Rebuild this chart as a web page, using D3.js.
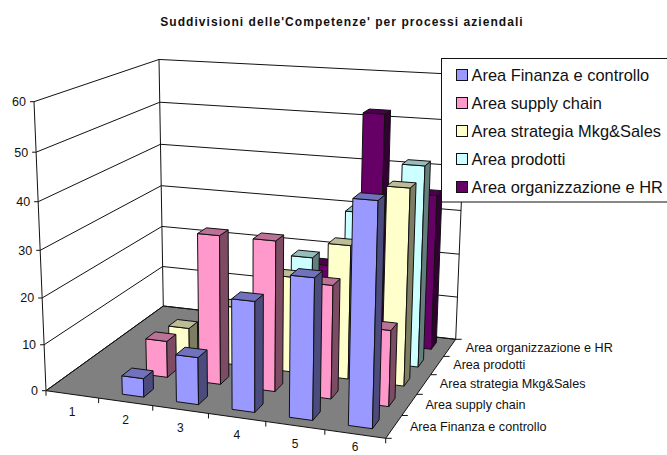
<!DOCTYPE html>
<html><head><meta charset="utf-8">
<script src="https://cdn.jsdelivr.net/npm/d3@7"></script>
<style>html,body{margin:0;padding:0;background:#fff}svg{display:block}text{font-family:"Liberation Sans",Arial,sans-serif;fill:#111}</style>
</head><body><svg id="c" width="667" height="455"></svg>
<script>
const titleText = "Suddivisioni delle'Competenze' per processi aziendali";
const categories = ["1","2","3","4","5","6"];
const seriesNames = ["Area Finanza e controllo","Area supply chain","Area strategia Mkg&Sales","Area prodotti","Area organizzazione e HR"];
const finanza = [null,4,10,23,29,45];
const supply = [null,8,32,32,24,16];
const strategia = [null,7,13,21,29,42];
const prodotti = [null,null,null,22,33,44];
const organizzazione = [null,null,null,17,52,35];
const seriesValues = [finanza,supply,strategia,prodotti,organizzazione];
const colors = ["#9999FF","#FF99CC","#FFFFCC","#CCFFFF","#660066"];
const valueTicks = [0,10,20,30,40,50,60];

// Screen frame of the 3D box
const floorFL=[46,390.7], floorFR=[385.7,438.3], floorBR=[455.7,339.3], floorBL=[163.3,306];
const topFL=[34,101.7], topBL=[159,59.3];

// Floor homography (unit square to quad)
const [x0,y0]=floorFL,[x1,y1]=floorFR,[x2,y2]=floorBR,[x3,y3]=floorBL;
const dx1=x1-x2,dx2=x3-x2,sx=x0-x1+x2-x3,dy1=y1-y2,dy2=y3-y2,sy=y0-y1+y2-y3;
const den=dx1*dy2-dx2*dy1;
const g=(sx*dy2-dx2*sy)/den,h=(dx1*sy-sx*dy1)/den;
const a=x1-x0+g*x1,b=x3-x0+h*x3,c=x0,d=y1-y0+g*y1,e=y3-y0+h*y3,f=y0;
// Vertical vanishing point
const cross=(u,v)=>[u[1]*v[2]-u[2]*v[1],u[2]*v[0]-u[0]*v[2],u[0]*v[1]-u[1]*v[0]];
const hom=p=>[p[0],p[1],1];
const V=cross(cross(hom(floorFL),hom(topFL)),cross(hom(floorBL),hom(topBL)));
const Vx=V[0]/V[2],Vy=V[1]/V[2];
const k=(topFL[1]-f)/(Vy-topFL[1]);
const project=(x,y,z)=>{const w=g*x+h*y+1+k*z;return [(a*x+b*y+c+k*Vx*z)/w,(d*x+e*y+f+k*Vy*z)/w];};

const xBand=d3.scaleBand().domain(categories).range([0,1]).paddingInner(0.6).paddingOuter(0.3);
const yBand=d3.scaleBand().domain(seriesNames).range([0,1]).paddingInner(0.6).paddingOuter(0.3);
const zScale=d3.scaleLinear().domain([0,60]).range([0,1]);
const xEdge=d3.scaleLinear().domain([0,categories.length]).range([0,1]);
const yEdge=d3.scaleLinear().domain([0,seriesNames.length]).range([0,1]);

const svg=d3.select("#c");
const path=d3.line();
const poly=(pts,fill)=>svg.append("path").attr("d",path(pts)+"Z").attr("fill",fill).attr("stroke","#111").attr("stroke-width",1).attr("stroke-linejoin","round");
const seg=(p,q)=>svg.append("line").attr("x1",p[0]).attr("y1",p[1]).attr("x2",q[0]).attr("y2",q[1]).attr("stroke","#111").attr("stroke-width",1);

svg.append("text").attr("x",342).attr("y",26).attr("text-anchor","middle").attr("font-weight","bold").attr("font-size",12).attr("letter-spacing",1.05).text(titleText);

// Walls and grid
poly([project(0,0,0),project(0,1,0),project(1,1,0),project(1,0,0)],"#808080");
valueTicks.forEach(v=>{
  const z=zScale(v), fl=project(0,0,z), bl=project(0,1,z), br=project(1,1,z);
  seg(fl,bl); seg(bl,br); seg([fl[0]-4,fl[1]],fl);
  svg.append("text").attr("x",fl[0]-8).attr("y",fl[1]+4.5).attr("text-anchor","end").attr("font-size",12.5).text(v);
});
seg(project(0,0,0),project(0,0,1));
seg(project(0,1,0),project(0,1,1));
seg(project(1,1,0),project(1,1,1));

// Axis ticks and labels
d3.range(categories.length+1).forEach(i=>{const p=project(xEdge(i),0,0);seg(p,[p[0],p[1]+5]);});
categories.forEach((cat,i)=>{
  const p=project(xEdge(i+0.5),0,0);
  svg.append("text").attr("x",p[0]).attr("y",Math.min(p[1]+22,451)).attr("text-anchor","middle").attr("font-size",12).text(cat);
});
d3.range(seriesNames.length+1).forEach(i=>{const p=project(1,yEdge(i),0);seg(p,[p[0]+6,p[1]]);});
seriesNames.forEach((s,i)=>{
  const p=project(1,yEdge(i+0.5),0);
  svg.append("text").attr("x",p[0]+16).attr("y",p[1]+4).attr("font-size",12.6).text(s);
});

// Bars, back row first
d3.range(seriesNames.length-1,-1,-1).forEach(si=>{
  const col=d3.color(colors[si]);
  const topCol=col.darker(0.85), sideCol=col.darker(2);
  categories.forEach((cat,ci)=>{
    const val=seriesValues[si][ci];
    if(val==null) return;
    const xa=xBand(cat), xb=xa+xBand.bandwidth();
    const ya=yBand(seriesNames[si]), yb=ya+yBand.bandwidth();
    const z=zScale(val);
    poly([project(xa,ya,0),project(xb,ya,0),project(xb,ya,z),project(xa,ya,z)],colors[si]);
    poly([project(xb,ya,0),project(xb,yb,0),project(xb,yb,z),project(xb,ya,z)],sideCol);
    poly([project(xa,ya,z),project(xb,ya,z),project(xb,yb,z),project(xa,yb,z)],topCol);
  });
});

// Legend
svg.append("rect").attr("x",441.5).attr("y",58.5).attr("width",240).attr("height",143.5).attr("fill","#fff").attr("stroke","#111");
const legendY=d3.scalePoint().domain(seriesNames).range([75,187]);
seriesNames.forEach((s,i)=>{
  const yy=legendY(s);
  svg.append("rect").attr("x",456.5).attr("y",yy-5.5).attr("width",11).attr("height",11).attr("fill",colors[i]).attr("stroke","#111");
  svg.append("text").attr("x",471.5).attr("y",yy+5.5).attr("font-size",16.4).text(s);
});
</script></body></html>
